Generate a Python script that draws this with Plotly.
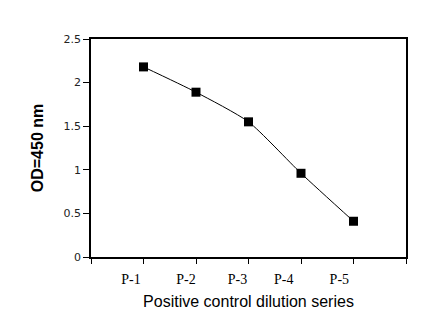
import plotly.graph_objects as go

# Dilution series readings
samples = ["P-1", "P-2", "P-3", "P-4", "P-5"]
od_values = [2.18, 1.89, 1.55, 0.96, 0.41]
sample_pos = [1, 2, 3, 4, 5]
label_pos = [0.76, 1.81, 2.79, 3.67, 4.73]
boundary_ticks = [0, 1, 2, 3, 4, 5, 6]
y_ticks = [0, 0.5, 1, 1.5, 2, 2.5]
y_tick_text = ["0", "0.5", "1", "1.5", "2", "2.5"]

fig = go.Figure()
fig.add_trace(go.Scatter(
    x=sample_pos, y=od_values,
    mode="lines+markers",
    line=dict(color="black", width=1, shape="spline", smoothing=0.6),
    marker=dict(symbol="square", size=9, color="black"),
    showlegend=False,
))

fig.update_layout(
    width=431, height=325,
    margin=dict(l=91, r=25, t=39, b=68),
    paper_bgcolor="white", plot_bgcolor="white",
    xaxis=dict(
        range=[0, 6],
        tickmode="array", tickvals=label_pos, ticktext=samples,
        ticks="", showgrid=False, zeroline=False,
        showline=True, linecolor="black", linewidth=1.5, mirror=True,
        ticklabelstandoff=8,
        tickfont=dict(family="Liberation Serif", size=14, color="black"),
        minor=dict(tickmode="array", tickvals=boundary_ticks, ticks="outside",
                   ticklen=5, tickwidth=1, tickcolor="black", showgrid=False),
        title=dict(text="Positive control dilution series",
                   font=dict(family="Liberation Sans", size=16, color="black"),
                   standoff=10),
    ),
    yaxis=dict(
        range=[0, 2.5],
        tickmode="array", tickvals=y_ticks, ticktext=y_tick_text,
        ticks="outside", ticklen=6, tickwidth=1, tickcolor="black",
        showgrid=False, zeroline=False,
        showline=True, linecolor="black", linewidth=1.5, mirror=True,
        tickfont=dict(family="DejaVu Sans", size=11, color="#222"),
        title=dict(text="<b>OD=450 nm</b>",
                   font=dict(family="Liberation Sans", size=16, color="black"),
                   standoff=16),
    ),
)

fig.write_html("out.html")
